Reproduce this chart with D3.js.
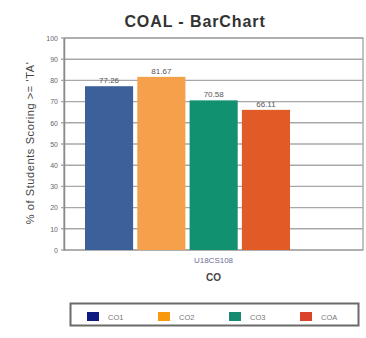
<!DOCTYPE html>
<html>
<head>
<meta charset="utf-8">
<script src="https://cdn.jsdelivr.net/npm/d3@7"></script>
<style>
  html, body { margin: 0; padding: 0; background: #fff; }
  svg { display: block; font-family: "Liberation Sans", Arial, sans-serif; }
</style>
</head>
<body>
<svg id="chart" width="366" height="338"></svg>
<script>
// Chart data
const categories = ["U18CS108"];
const series = ["CO1", "CO2", "CO3", "COA"];
const values = [77.26, 81.67, 70.58, 66.11];
const barColors = ["#3b609a", "#f5a04b", "#129170", "#e25b26"];
const legendColors = ["#0c1a82", "#f7980f", "#178a72", "#d9442a"];
const yTicks = [0, 10, 20, 30, 40, 50, 60, 70, 80, 90, 100];

const svg = d3.select("#chart");
const plot = { left: 64, top: 38, right: 363, bottom: 250 };

const y = d3.scaleLinear().domain([0, 100]).range([plot.bottom, plot.top]);
const x0 = d3.scaleBand().domain(categories).range([plot.left, plot.right]);
// bars for the series sit inside the category band
const x1 = d3.scaleBand().domain(series).range([21, 226]).paddingInner(0.08);

// Title
svg.append("text")
  .attr("x", 195).attr("y", 27)
  .attr("text-anchor", "middle")
  .attr("font-size", 16).attr("font-weight", "bold")
  .attr("letter-spacing", 0.9)
  .attr("fill", "#333")
  .text("COAL - BarChart");

// Plot frame
svg.append("rect")
  .attr("x", plot.left).attr("y", plot.top)
  .attr("width", plot.right - plot.left).attr("height", plot.bottom - plot.top)
  .attr("fill", "#fff").attr("stroke", "#9a9a9a").attr("stroke-width", 1.2);

// Grid lines
svg.append("g")
  .selectAll("line").data(yTicks).join("line")
  .attr("x1", plot.left - 3).attr("x2", plot.right)
  .attr("y1", d => y(d)).attr("y2", d => y(d))
  .attr("stroke", "#a8a8a8").attr("stroke-width", 1.4);

// Y axis labels
const yAxis = d3.axisLeft(y).tickValues(yTicks).tickSize(0).tickPadding(6);
const gy = svg.append("g").attr("transform", `translate(${plot.left},0)`).call(yAxis);
gy.select(".domain").attr("stroke", "#8a8a8a").attr("stroke-width", 1.5);
gy.selectAll("text").attr("font-size", 7).attr("fill", "#666").attr("font-family", "Liberation Sans, Arial, sans-serif");

// Y axis title
svg.append("text")
  .attr("transform", "translate(34,143) rotate(-90)")
  .attr("text-anchor", "middle")
  .attr("font-size", 11).attr("letter-spacing", 0.6).attr("fill", "#444")
  .text("% of Students Scoring >= 'TA'");

// Bars
const group = svg.append("g").attr("transform", `translate(${x0(categories[0])},0)`);
group.selectAll("rect").data(values).join("rect")
  .attr("x", (d, i) => x1(series[i]))
  .attr("y", d => y(d))
  .attr("width", x1.bandwidth())
  .attr("height", d => y(0) - y(d))
  .attr("fill", (d, i) => barColors[i]);

// Value labels
group.selectAll("text").data(values).join("text")
  .attr("x", (d, i) => x1(series[i]) + x1.bandwidth() / 2)
  .attr("y", d => y(d) - 3)
  .attr("text-anchor", "middle")
  .attr("font-size", 8).attr("fill", "#555")
  .text(d => d.toFixed(2));

// Category label and x axis title
svg.append("text")
  .attr("x", x0(categories[0]) + x0.bandwidth() / 2).attr("y", 263)
  .attr("text-anchor", "middle")
  .attr("font-size", 8).attr("fill", "#6d6d9c")
  .text(categories[0]);

svg.append("text")
  .attr("x", x0(categories[0]) + x0.bandwidth() / 2).attr("y", 281)
  .attr("text-anchor", "middle")
  .attr("font-size", 10).attr("font-weight", "bold").attr("fill", "#444")
  .text("CO");

// Legend
svg.append("rect")
  .attr("x", 70.5).attr("y", 303.5).attr("width", 288).attr("height", 22)
  .attr("fill", "#fff").attr("stroke", "#6a6a6a").attr("stroke-width", 2);

const legendX = d3.scalePoint().domain(series).range([87, 300]);
const items = svg.append("g").selectAll("g").data(series).join("g")
  .attr("transform", d => `translate(${legendX(d)},312)`);
items.append("rect").attr("width", 12).attr("height", 9)
  .attr("fill", (d, i) => legendColors[i]);
items.append("text").attr("x", 21).attr("y", 7.5)
  .attr("font-size", 7.5).attr("fill", "#777")
  .text(d => d);
</script>
</body>
</html>
